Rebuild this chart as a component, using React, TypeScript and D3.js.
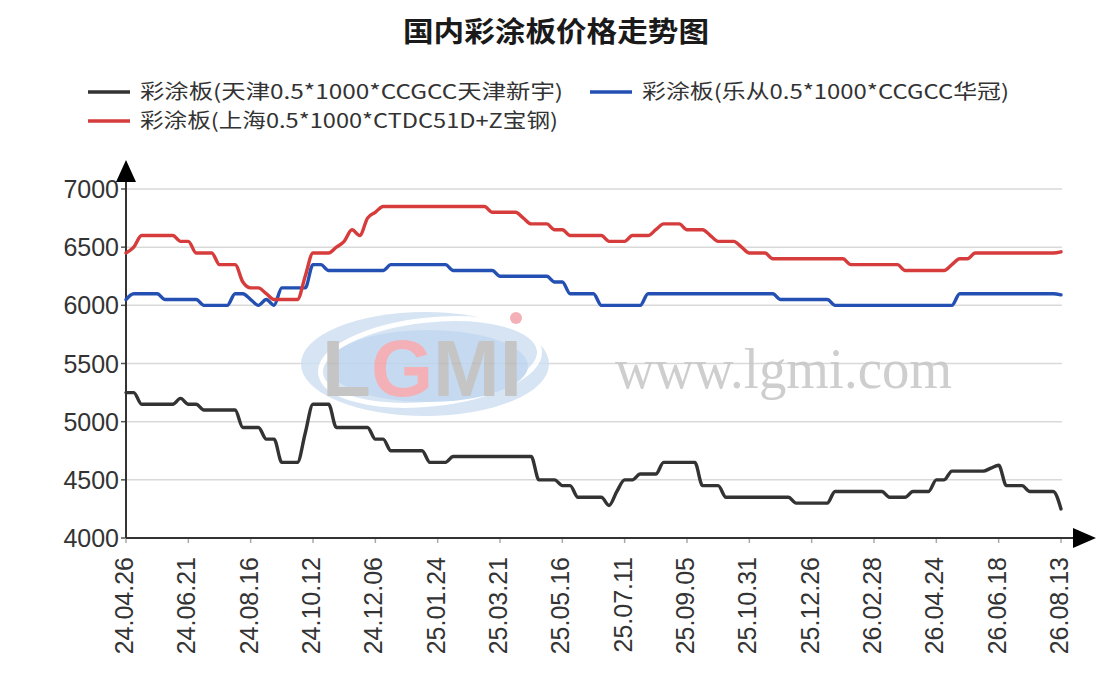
import React, { useEffect, useRef } from 'react';
import * as d3 from 'd3';

const title = '国内彩涂板价格走势图';

// tick labels on the category axis, one every 8 points
const tickLabels = [
  '24.04.26', '24.06.21', '24.08.16', '24.10.12', '24.12.06', '25.01.24', '25.03.21', '25.05.16',
  '25.07.11', '25.09.05', '25.10.31', '25.12.26', '26.02.28', '26.04.24', '26.06.18', '26.08.13',
];
const tickEvery = 8;

const yTicks = [4000, 4500, 5000, 5500, 6000, 6500, 7000];

// 天津新宇
const tianjin = [
  5250, 5250, 5150, 5150, 5150, 5150, 5150, 5200, 5150, 5150,
  5100, 5100, 5100, 5100, 5100, 4950, 4950, 4950, 4850, 4850,
  4650, 4650, 4650, 4900, 5150, 5150, 5150, 4950, 4950, 4950,
  4950, 4950, 4850, 4850, 4750, 4750, 4750, 4750, 4750, 4650,
  4650, 4650, 4700, 4700, 4700, 4700, 4700, 4700, 4700, 4700,
  4700, 4700, 4700, 4500, 4500, 4500, 4450, 4450, 4350, 4350,
  4350, 4350, 4280, 4400, 4500, 4500, 4550, 4550, 4550, 4650,
  4650, 4650, 4650, 4650, 4450, 4450, 4450, 4350, 4350, 4350,
  4350, 4350, 4350, 4350, 4350, 4350, 4300, 4300, 4300, 4300,
  4300, 4400, 4400, 4400, 4400, 4400, 4400, 4400, 4350, 4350,
  4350, 4400, 4400, 4400, 4500, 4500, 4575, 4575, 4575, 4575,
  4575, 4600, 4625, 4450, 4450, 4450, 4400, 4400, 4400, 4400,
  4250,
];

// 乐从华冠
const lecong = [
  6050, 6100, 6100, 6100, 6100, 6050, 6050, 6050, 6050, 6050,
  6000, 6000, 6000, 6000, 6100, 6100, 6050, 6000, 6050, 6000,
  6150, 6150, 6150, 6150, 6350, 6350, 6300, 6300, 6300, 6300,
  6300, 6300, 6300, 6300, 6350, 6350, 6350, 6350, 6350, 6350,
  6350, 6350, 6300, 6300, 6300, 6300, 6300, 6300, 6250, 6250,
  6250, 6250, 6250, 6250, 6250, 6200, 6200, 6100, 6100, 6100,
  6100, 6000, 6000, 6000, 6000, 6000, 6000, 6100, 6100, 6100,
  6100, 6100, 6100, 6100, 6100, 6100, 6100, 6100, 6100, 6100,
  6100, 6100, 6100, 6100, 6050, 6050, 6050, 6050, 6050, 6050,
  6050, 6000, 6000, 6000, 6000, 6000, 6000, 6000, 6000, 6000,
  6000, 6000, 6000, 6000, 6000, 6000, 6000, 6100, 6100, 6100,
  6100, 6100, 6100, 6100, 6100, 6100, 6100, 6100, 6100, 6100,
  6090,
];

// 上海宝钢
const shanghai = [
  6450, 6500, 6600, 6600, 6600, 6600, 6600, 6550, 6550, 6450,
  6450, 6450, 6350, 6350, 6350, 6200, 6150, 6150, 6100, 6050,
  6050, 6050, 6050, 6250, 6450, 6450, 6450, 6500, 6550, 6650,
  6600, 6750, 6800, 6850, 6850, 6850, 6850, 6850, 6850, 6850,
  6850, 6850, 6850, 6850, 6850, 6850, 6850, 6800, 6800, 6800,
  6800, 6750, 6700, 6700, 6700, 6650, 6650, 6600, 6600, 6600,
  6600, 6600, 6550, 6550, 6550, 6600, 6600, 6600, 6650, 6700,
  6700, 6700, 6650, 6650, 6650, 6600, 6550, 6550, 6550, 6500,
  6450, 6450, 6450, 6400, 6400, 6400, 6400, 6400, 6400, 6400,
  6400, 6400, 6400, 6350, 6350, 6350, 6350, 6350, 6350, 6350,
  6300, 6300, 6300, 6300, 6300, 6300, 6350, 6400, 6400, 6450,
  6450, 6450, 6450, 6450, 6450, 6450, 6450, 6450, 6450, 6450,
  6460,
];

const seriesNames = [
  '彩涂板(天津0.5*1000*CCGCC天津新宇)',
  '彩涂板(乐从0.5*1000*CCGCC华冠)',
  '彩涂板(上海0.5*1000*CTDC51D+Z宝钢)',
];
const seriesData = [tianjin, lecong, shanghai];
const seriesColors = ['#333333', '#2350b2', '#d63c3c'];

const W = 1106;
const H = 695;
const CJK = '"Noto Sans CJK SC", "Liberation Sans", sans-serif';
const LATIN = '"Liberation Sans", Arial, sans-serif';

const PriceChart = () => {
  const svgRef: any = useRef();

  useEffect(() => {
    const svg = d3.select(svgRef.current);
    svg.selectAll('*').remove();

    const left = 126, right = 1061, top = 189, bottom = 538;
    const n = tianjin.length;

    const x = d3.scaleLinear().domain([0, n - 1]).range([left, right]);
    const y = d3.scaleLinear().domain([4000, 7000]).range([bottom, top]);

    // title
    svg.append('text')
      .attr('x', 556)
      .attr('y', 42)
      .attr('text-anchor', 'middle')
      .attr('font-family', CJK)
      .attr('font-weight', 'bold')
      .attr('font-size', 28)
      .attr('fill', '#1a1a1a')
      .attr('textLength', 306)
      .attr('lengthAdjust', 'spacingAndGlyphs')
      .text(title);

    // legend
    const legendPos = [
      { lx: 88, ly: 92, w: 423 },
      { lx: 590, ly: 92, w: 367 },
      { lx: 88, ly: 121, w: 418 },
    ];
    seriesNames.forEach((name, i) => {
      const p = legendPos[i];
      const g = svg.append('g').attr('transform', `translate(${p.lx},${p.ly})`);
      g.append('line')
        .attr('x1', 0).attr('x2', 42)
        .attr('y1', 0).attr('y2', 0)
        .attr('stroke', seriesColors[i])
        .attr('stroke-width', 3.5);
      g.append('text')
        .attr('x', 52)
        .attr('y', 0)
        .attr('dy', '0.36em')
        .attr('font-family', CJK)
        .attr('font-size', 20)
        .attr('fill', '#333')
        .attr('textLength', p.w)
        .attr('lengthAdjust', 'spacingAndGlyphs')
        .text(name);
    });

    // gridlines
    svg.append('g')
      .selectAll('line')
      .data(yTicks.filter((t) => t !== 4000))
      .join('line')
      .attr('x1', left)
      .attr('x2', right + 1)
      .attr('y1', (d) => y(d))
      .attr('y2', (d) => y(d))
      .attr('stroke', '#d9d9d9')
      .attr('stroke-width', 1.5);

    // watermark
    const wm = svg.append('g').attr('opacity', 0.85);
    wm.append('ellipse')
      .attr('cx', 425).attr('cy', 364)
      .attr('rx', 124).attr('ry', 52)
      .attr('fill', '#cfe0f2');
    wm.append('ellipse')
      .attr('cx', 430).attr('cy', 362)
      .attr('rx', 110).attr('ry', 42)
      .attr('fill', 'none')
      .attr('stroke', '#ffffff')
      .attr('stroke-width', 5)
      .attr('transform', 'rotate(-6 430 362)');
    wm.append('ellipse')
      .attr('cx', 428).attr('cy', 366)
      .attr('rx', 100).attr('ry', 36)
      .attr('fill', '#bcd4ee');
    const logo = wm.append('text')
      .attr('x', 322)
      .attr('y', 396)
      .attr('font-family', LATIN)
      .attr('font-weight', 'bold')
      .attr('font-size', 80)
      .attr('textLength', 200)
      .attr('lengthAdjust', 'spacingAndGlyphs')
      .attr('fill', '#bbbbbb');
    logo.append('tspan').text('L');
    logo.append('tspan').attr('fill', '#f3a3ab').text('G');
    logo.append('tspan').text('MI');
    wm.append('circle')
      .attr('cx', 516).attr('cy', 318).attr('r', 6)
      .attr('fill', '#f3a3ab');
    wm.append('text')
      .attr('x', 615)
      .attr('y', 388)
      .attr('font-family', '"Liberation Serif", "DejaVu Serif", serif')
      .attr('font-size', 56)
      .attr('fill', '#c6c6c6')
      .attr('textLength', 337)
      .attr('lengthAdjust', 'spacingAndGlyphs')
      .text('www.lgmi.com');

    // y axis labels and ticks
    const yAxis = svg.append('g');
    yAxis.selectAll('text')
      .data(yTicks)
      .join('text')
      .attr('x', 119)
      .attr('y', (d) => y(d))
      .attr('dy', '0.36em')
      .attr('text-anchor', 'end')
      .attr('font-family', LATIN)
      .attr('font-size', 25)
      .attr('fill', '#333')
      .text((d) => d);
    yAxis.selectAll('line')
      .data(yTicks)
      .join('line')
      .attr('x1', left - 5)
      .attr('x2', left)
      .attr('y1', (d) => y(d))
      .attr('y2', (d) => y(d))
      .attr('stroke', '#555')
      .attr('stroke-width', 1.5);

    // x axis ticks and labels
    const xAxis = svg.append('g');
    const tickIdx = tickLabels.map((_, i) => i * tickEvery);
    xAxis.selectAll('line')
      .data(tickIdx)
      .join('line')
      .attr('x1', (d) => x(d))
      .attr('x2', (d) => x(d))
      .attr('y1', bottom)
      .attr('y2', bottom + 5)
      .attr('stroke', '#aaa')
      .attr('stroke-width', 1.5);
    xAxis.selectAll('text')
      .data(tickLabels)
      .join('text')
      .attr('transform', (_, i) => `translate(${x(tickIdx[i]) - 2},${bottom + 19}) rotate(-90)`)
      .attr('dy', '0.36em')
      .attr('text-anchor', 'end')
      .attr('font-family', LATIN)
      .attr('font-size', 25)
      .attr('fill', '#333')
      .text((d) => d);

    // axis lines with arrows
    svg.append('line')
      .attr('x1', left).attr('x2', left)
      .attr('y1', bottom).attr('y2', 178)
      .attr('stroke', '#333').attr('stroke-width', 2);
    svg.append('path')
      .attr('d', `M${left},160 L${left - 10},182 L${left + 10},182 Z`)
      .attr('fill', '#000');
    svg.append('line')
      .attr('x1', left).attr('x2', 1076)
      .attr('y1', bottom).attr('y2', bottom)
      .attr('stroke', '#333').attr('stroke-width', 2);
    svg.append('path')
      .attr('d', `M1096,${bottom} L1073,${bottom - 10} L1073,${bottom + 10} Z`)
      .attr('fill', '#000');

    // series lines
    const line = d3.line<number>()
      .x((_, i) => x(i))
      .y((d) => y(d))
      .curve(d3.curveMonotoneX);
    seriesData.forEach((data, i) => {
      svg.append('path')
        .datum(data)
        .attr('fill', 'none')
        .attr('stroke', seriesColors[i])
        .attr('stroke-width', 3.4)
        .attr('stroke-linejoin', 'round')
        .attr('stroke-linecap', 'round')
        .attr('d', line);
    });
  }, []);

  return <svg ref={svgRef} width={W} height={H} style={{ position: 'absolute', left: 0, top: 0, background: '#fff' }}></svg>;
};

export default function App() {
  return <PriceChart />;
}
